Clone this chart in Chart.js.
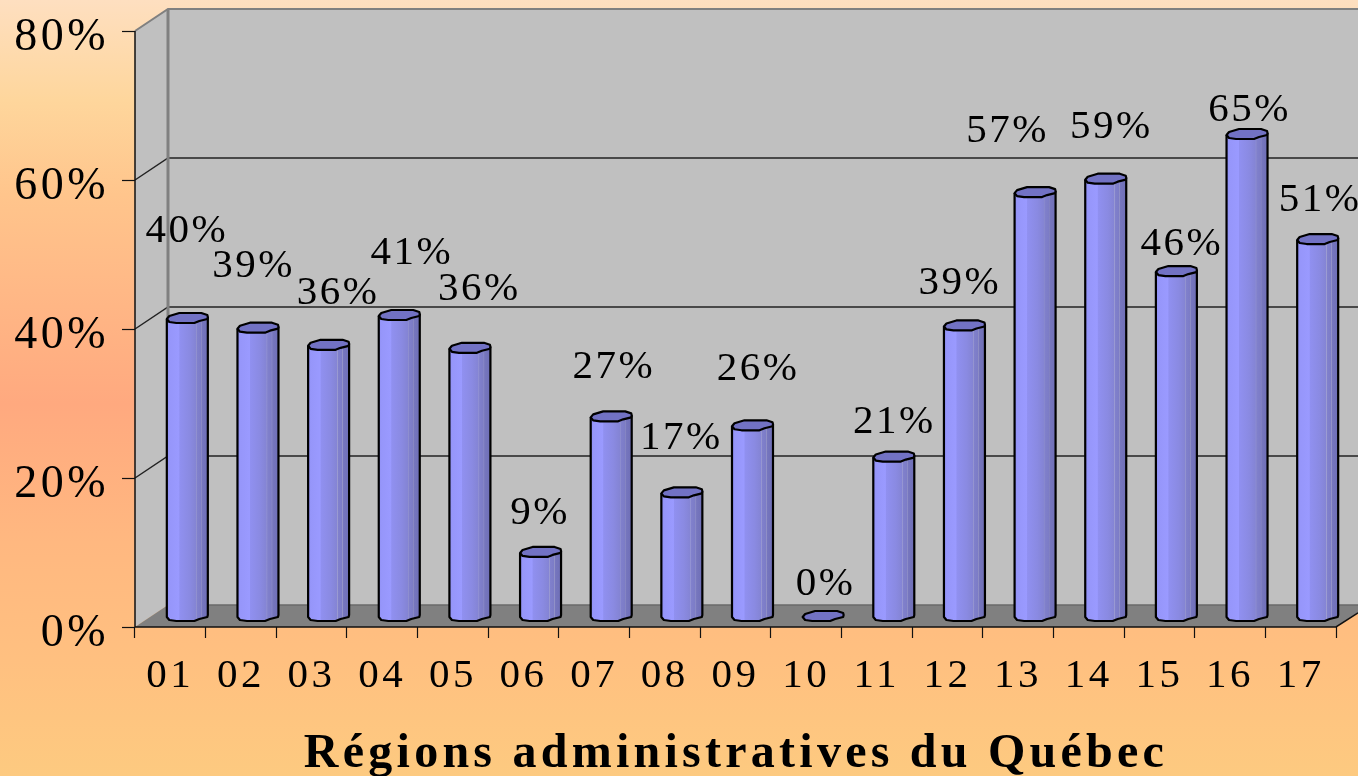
<!DOCTYPE html>
<html><head><meta charset="utf-8">
<style>html,body{margin:0;padding:0;overflow:hidden}#w{width:1358px;height:776px;position:relative}</style>
<script src="https://cdn.jsdelivr.net/npm/chart.js@4"></script></head>
<body><div id="w"><canvas id="c" width="1358" height="776"></canvas></div>
<script>
const categories=['01','02','03','04','05','06','07','08','09','10','11','12','13','14','15','16','17'];
const values=[40,38.7,36.4,40.4,36,8.6,26.8,16.6,25.6,0,21.4,39,56.9,58.7,46.3,64.7,50.6];
const valueLabels=['40%','39%','36%','41%','36%','9%','27%','17%','26%','0%','21%','39%','57%','59%','46%','65%','51%'];
const labelNudgeX=[-2,-6,8,11,8,-2,1,-2,4,1,-1,-6,-29,4,4,1,1];
const labelNudgeY=[-87,-61,-52,-62,-59,-39,-49,-54,-56,-32,-34,-42,-61,-51,-27,-24,-39];
const xTitle='Régions administratives du Québec';
const DX=33,DY=22,SERIF='"Liberation Serif","Times New Roman",serif';
const capPts=[[-20.5,1],[-18,-2],[-8,-5],[14,-5],[20,-3],[20.5,-1],[20,1],[12,3],[7,5],[-11,5],[-18,4]];
function sideGrad(c,cx){const g=c.createLinearGradient(cx-21,0,cx+21,0);
 [[0,'#8e8ef2'],[.08,'#9696fa'],[.3,'#9a9aff'],[.32,'#9090f0'],[.55,'#8a8ae2'],[.7,'#8484d4'],[.71,'#9c9cd2'],[.73,'#8080cc'],[.82,'#7c7cc6'],[.83,'#9494c8'],[.85,'#7676be'],[1,'#6e6eb6']].forEach(s=>g.addColorStop(s[0],s[1]));return g;}
const scene={id:'scene',
 beforeDraw(ch){const c=ch.ctx;c.letterSpacing='3.5px';
  const g=c.createLinearGradient(0,0,0,776);
  [[0,'#fedfc0'],[.13,'#fed69c'],[.25,'#ffc58c'],[.52,'#ffa97f'],[.7,'#ffb880'],[.85,'#ffc080'],[1,'#fdca80']].forEach(s=>g.addColorStop(s[0],s[1]));
  c.fillStyle=g;c.fillRect(0,0,1358,776);},
 beforeDatasetsDraw(ch){const c=ch.ctx,x=ch.scales.x,y=ch.scales.y,L=x.left,R=x.right,T=y.top,B=y.bottom,W=ch.width;
  c.save();
  c.fillStyle='#c0c0c0';c.beginPath();c.moveTo(L,T);c.lineTo(L+DX,T-DY);c.lineTo(W,T-DY);c.lineTo(W,B-DY);c.lineTo(L+DX,B-DY);c.lineTo(L,B);c.closePath();c.fill();
  c.fillStyle='#808080';c.beginPath();c.moveTo(L,B);c.lineTo(L+DX,B-DY);c.lineTo(W,B-DY);c.lineTo(W,B-DX*0.4-1);c.lineTo(R,B);c.closePath();c.fill();
  c.strokeStyle='#222';c.lineWidth=1.5;
  [20,40,60].forEach(v=>{const p=y.getPixelForValue(v);c.beginPath();c.moveTo(L,p);c.lineTo(L+DX,p-DY);c.lineTo(W,p-DY);c.stroke();});
  c.strokeStyle='#808080';c.lineWidth=3;
  c.beginPath();c.moveTo(L+DX,B-DY);c.lineTo(L+DX,T-DY);c.stroke();
  c.lineWidth=2;c.beginPath();c.moveTo(L,T);c.lineTo(L+DX,T-DY);c.lineTo(W,T-DY);c.stroke();
  c.strokeStyle='#6a6a6a';c.lineWidth=1.5;c.beginPath();c.moveTo(L+DX,B-DY);c.lineTo(W,B-DY);c.stroke();
  c.strokeStyle='#111';c.lineWidth=1.5;c.beginPath();c.moveTo(L,T);c.lineTo(L,B);c.lineTo(R,B);c.lineTo(W,B-DX*0.4-1);c.stroke();
  c.restore();
  c.save();c.translate(DX/2+.5,-DY/2);},
 afterDatasetsDraw(ch){const c=ch.ctx;c.restore();
  const m=ch.getDatasetMeta(0),base=ch.scales.y.getPixelForValue(0)-DY/2;
  m.data.forEach((b,i)=>{const cx=b.x+DX/2+.5,cy=b.y-DY/2;
   const h=base-cy;c.save();c.lineJoin='round';
   if(h>1){c.fillStyle=sideGrad(c,cx);c.beginPath();c.moveTo(cx-20.5,base);
     [[-18,4],[-11,5],[7,5],[12,3],[20,1],[20.5,-1]].forEach(p=>c.lineTo(cx+p[0],base+p[1]));
     c.lineTo(cx+20.5,base-3);c.lineTo(cx-20.5,base-3);c.closePath();c.fill();
     c.strokeStyle='#000';c.lineWidth=2.2;c.beginPath();c.moveTo(cx-20.5,cy+1);c.lineTo(cx-20.5,base+1);
     [[-18,4],[-11,5],[7,5],[12,3],[20,1],[20.5,-1]].forEach(p=>c.lineTo(cx+p[0],base+p[1]));
     c.lineTo(cx+20.5,cy-1);c.stroke();}
   c.fillStyle='#7272c4';c.strokeStyle='#000';c.lineWidth=2.2;c.beginPath();
   capPts.forEach((p,j)=>j?c.lineTo(cx+p[0],cy+p[1]):c.moveTo(cx+p[0],cy+p[1]));c.closePath();c.fill();c.stroke();c.restore();
   c.save();c.font='41px '+SERIF;c.letterSpacing='2.5px';c.fillStyle='#000';c.textAlign='center';c.textBaseline='middle';
   c.fillText(valueLabels[i],cx+labelNudgeX[i]+1.5,cy+labelNudgeY[i]);c.restore();});
 },
 afterDraw(ch){const c=ch.ctx;c.save();c.font='bold 48px '+SERIF;c.letterSpacing='4.25px';c.fillStyle='#000';c.textAlign='center';c.textBaseline='alphabetic';
  c.fillText(xTitle,736,767);c.restore();}};
Chart.defaults.font.family=SERIF;
new Chart(document.getElementById('c'),{type:'bar',plugins:[scene],
 data:{labels:categories,datasets:[{data:values,barThickness:41,borderWidth:0,clip:false,
  backgroundColor:ctx=>{const s=ctx.chart.scales.x;const p=s&&ctx.dataIndex!==undefined?s.getPixelForValue(ctx.dataIndex):NaN;return isFinite(p)?sideGrad(ctx.chart.ctx,p):'#9090f0';}}]},
 options:{responsive:false,animation:false,events:[],
  layout:{padding:{top:31,right:22,left:0,bottom:0}},
  plugins:{legend:{display:false},tooltip:{enabled:false},title:{display:false}},
  scales:{
   x:{afterFit(s){s.height=149;},
    grid:{drawOnChartArea:false,drawTicks:true,tickLength:11,tickColor:'#111',tickWidth:1.2,offset:true},border:{display:false},
    ticks:{color:'#000',font:{size:41,family:SERIF},padding:14,maxRotation:0,autoSkip:false},
    title:{display:false}},
   y:{min:0,max:80,afterFit(s){s.width=135;s.paddingTop=0;s.paddingBottom=0;},
    grid:{drawOnChartArea:false,tickLength:13,tickColor:'#111',tickWidth:1.2},border:{display:false},
    ticks:{stepSize:20,color:'#000',padding:13,labelOffset:7,font:{size:46,family:SERIF},callback:v=>v+'%'}}
  }}});
</script></body></html>
